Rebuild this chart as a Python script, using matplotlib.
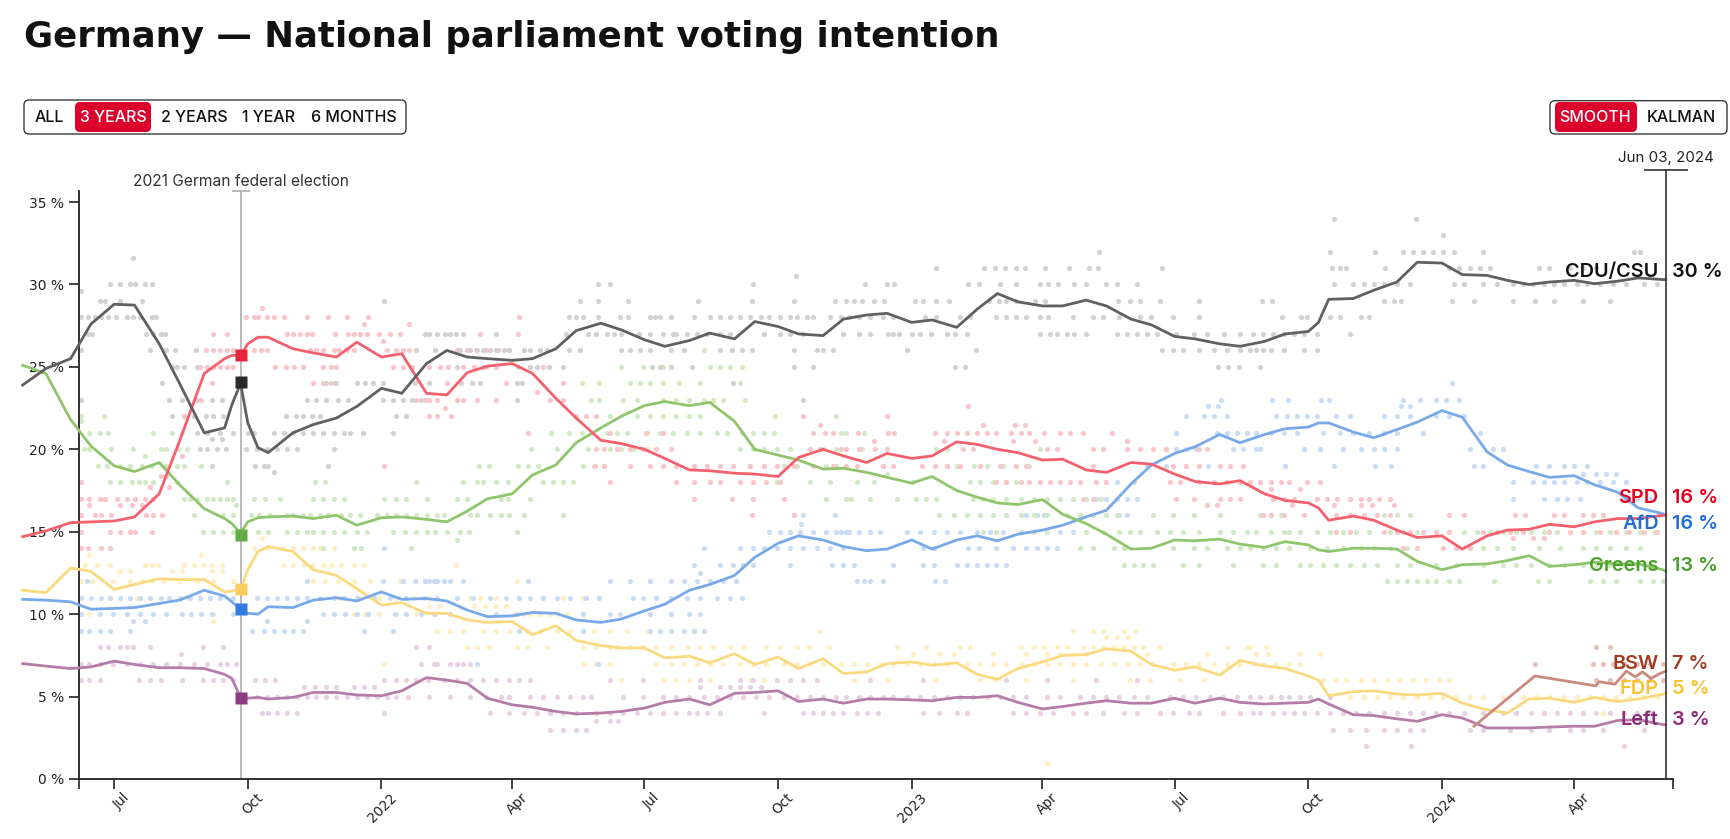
import matplotlib
matplotlib.use("Agg")
import matplotlib.pyplot as plt
import matplotlib.dates as mdates
import matplotlib.ticker as mticker
from matplotlib.patches import FancyBboxPatch
from matplotlib.transforms import ScaledTranslation, blended_transform_factory, IdentityTransform
import pandas as pd

W, H = 1731, 839

# ---- data (smoothed poll averages) ----
DATES = [
    "2021-04-29", "2021-05-15", "2021-06-01", "2021-06-15", "2021-07-01", "2021-07-15",
    "2021-08-01", "2021-08-15", "2021-09-01", "2021-09-15", "2021-09-20", "2021-09-26",
    "2021-10-01", "2021-10-08", "2021-10-15", "2021-11-01", "2021-11-15", "2021-12-01",
    "2021-12-15",
    "2022-01-01", "2022-01-15", "2022-02-01", "2022-02-15", "2022-03-01", "2022-03-15",
    "2022-04-01", "2022-04-15", "2022-05-01", "2022-05-15", "2022-06-01", "2022-06-15",
    "2022-07-01", "2022-07-15", "2022-08-01", "2022-08-15", "2022-09-01", "2022-09-15",
    "2022-10-01", "2022-10-15", "2022-11-01", "2022-11-15", "2022-12-01", "2022-12-15",
    "2023-01-01", "2023-01-15", "2023-02-01", "2023-02-15", "2023-03-01", "2023-03-15",
    "2023-04-01", "2023-04-15", "2023-05-01", "2023-05-15", "2023-06-01", "2023-06-15",
    "2023-07-01", "2023-07-15", "2023-08-01", "2023-08-15", "2023-09-01", "2023-09-15",
    "2023-10-01", "2023-10-08", "2023-10-15", "2023-11-01", "2023-11-15", "2023-12-01",
    "2023-12-15",
    "2024-01-01", "2024-01-15", "2024-02-01", "2024-02-15", "2024-03-01", "2024-03-15",
    "2024-04-01", "2024-04-15", "2024-05-01", "2024-05-15", "2024-06-01", "2024-06-03",
]

CDU = [23.9, 24.9, 25.5, 27.6, 28.8, 28.75, 26.4, 24.0, 21.0, 21.3, 22.7, 24.0, 21.6, 20.1, 19.8, 21.0, 21.5, 21.9, 22.6,
       23.7, 23.4, 25.2, 26.0, 25.6, 25.5, 25.4, 25.5, 26.1, 27.2, 27.65, 27.25, 26.65, 26.25, 26.6, 27.05, 26.7, 27.75,
       27.45, 27.0, 26.9, 27.9, 28.15, 28.25,
       27.7, 27.85, 27.4, 28.5, 29.45, 28.95, 28.7, 28.7, 29.05, 28.7, 27.9, 27.55, 26.85, 26.7, 26.4, 26.25, 26.55, 27.0,
       27.15, 27.7, 29.1, 29.15, 29.65, 30.15, 31.35,
       31.3, 30.6, 30.55, 30.25, 30.0, 30.15, 30.25, 30.05, 30.2, 30.4, 30.3, 30.3]
SPD = [14.7, 15.05, 15.55, 15.6, 15.65, 15.9, 17.3, 20.5, 24.6, 25.5, 25.7, 25.7, 26.4, 26.8, 26.8, 26.1, 25.85, 25.6, 26.5,
       25.6, 25.8, 23.4, 23.3, 24.65, 25.05, 25.2, 24.6, 23.1, 21.9, 20.55, 20.35, 20.0, 19.45, 18.75, 18.7, 18.55, 18.5,
       18.35, 19.5, 20.0, 19.6, 19.2, 19.75,
       19.45, 19.6, 20.45, 20.3, 20.0, 19.8, 19.35, 19.4, 18.75, 18.6, 19.2, 19.1, 18.5, 18.05, 17.9, 18.1, 17.3, 16.9,
       16.75, 16.45, 15.7, 15.95, 15.7, 15.1, 14.65,
       14.75, 13.95, 14.75, 15.1, 15.15, 15.45, 15.3, 15.6, 15.8, 15.8, 16.0, 16.0]
GREENS = [25.1, 24.6, 21.8, 20.2, 19.0, 18.65, 19.2, 17.85, 16.4, 15.8, 15.5, 14.9, 15.6, 15.85, 15.9, 15.95, 15.8, 16.0, 15.4,
          15.85, 15.9, 15.75, 15.6, 16.25, 17.0, 17.3, 18.45, 19.05, 20.4, 21.3, 22.0, 22.65, 22.9, 22.65, 22.85, 21.7, 20.0,
          19.65, 19.35, 18.8, 18.85, 18.6, 18.3,
          17.95, 18.35, 17.5, 17.1, 16.75, 16.65, 16.95, 16.05, 15.5, 14.85, 13.95, 14.0, 14.5, 14.45, 14.55, 14.25, 14.05,
          14.4, 14.2, 13.9, 13.8, 14.0, 14.0, 13.95, 13.2,
          12.7, 13.0, 13.05, 13.25, 13.55, 12.9, 13.0, 13.15, 13.05, 13.05, 12.7, 12.6]
FDP = [11.45, 11.3, 12.8, 12.6, 11.5, 11.8, 12.15, 12.1, 12.1, 11.35, 11.4, 11.5, 12.7, 13.8, 14.1, 13.8, 12.7, 12.35, 11.55,
       10.55, 10.7, 10.05, 10.05, 9.65, 9.5, 9.55, 8.75, 9.3, 8.4, 8.1, 7.95, 7.95, 7.35, 7.45, 7.05, 7.6, 6.95,
       7.4, 6.7, 7.3, 6.4, 6.5, 7.0,
       7.1, 6.9, 7.05, 6.35, 6.05, 6.7, 7.1, 7.5, 7.55, 7.9, 7.75, 6.95, 6.6, 6.8, 6.3, 7.2, 6.85, 6.7,
       6.25, 6.0, 5.05, 5.3, 5.35, 5.15, 5.1,
       5.2, 4.6, 4.2, 4.0, 4.85, 4.9, 4.65, 4.95, 4.7, 4.85, 5.15, 5.2]
AFD = [10.9, 10.85, 10.75, 10.3, 10.35, 10.4, 10.65, 10.85, 11.45, 11.1, 10.75, 10.3, 10.05, 10.0, 10.45, 10.4, 10.85, 11.0, 10.8,
       11.35, 10.9, 10.95, 10.8, 10.25, 9.85, 9.9, 10.1, 10.05, 9.65, 9.5, 9.7, 10.2, 10.6, 11.45, 11.8, 12.35, 13.45,
       14.3, 14.75, 14.5, 14.1, 13.85, 13.95,
       14.5, 13.95, 14.5, 14.75, 14.45, 14.85, 15.1, 15.4, 15.9, 16.3, 17.9, 19.05, 19.75, 20.15, 20.9, 20.4, 20.9, 21.25,
       21.35, 21.6, 21.6, 21.05, 20.7, 21.2, 21.65,
       22.35, 21.95, 19.85, 19.05, 18.65, 18.3, 18.4, 17.85, 17.4, 16.45, 16.1, 16.0]
LEFT = [7.0, 6.85, 6.7, 6.8, 7.15, 6.95, 6.75, 6.75, 6.7, 6.35, 6.1, 4.95, 4.9, 4.95, 4.85, 4.95, 5.25, 5.25, 5.1,
        5.05, 5.35, 6.15, 6.0, 5.8, 4.9, 4.5, 4.35, 4.1, 3.95, 4.0, 4.1, 4.3, 4.65, 4.85, 4.5, 5.2, 5.25,
        5.35, 4.7, 4.85, 4.6, 4.85, 4.85,
        4.8, 4.75, 4.95, 4.95, 5.05, 4.65, 4.25, 4.4, 4.6, 4.75, 4.6, 4.6, 4.9, 4.6, 4.9, 4.65, 4.55, 4.6,
        4.65, 4.85, 4.55, 3.9, 3.85, 3.65, 3.5,
        3.9, 3.7, 3.1, 3.1, 3.1, 3.15, 3.2, 3.2, 3.55, 3.6, 3.3, 3.3]

BSW_DATES = ["2024-01-23", "2024-03-05", "2024-04-16", "2024-04-18", "2024-04-29", "2024-05-07",
             "2024-05-13", "2024-05-18", "2024-05-24", "2024-05-29", "2024-06-03"]
BSW = [3.2, 6.25, 5.65, 5.9, 5.75, 6.55, 6.2, 6.5, 6.1, 6.35, 6.55]

# individual polls: {value: [days since 2022-01-01, ...]}
POLL_DAY0 = "2022-01-01"
POLLS_CDU = {
    34: [656, 712],
    33: [731],
    32: [494, 653, 684, 703, 710, 717, 724, 731, 738, 758, 862, 866],
    31.6: [-171],
    31: [382, 415, 422, 429, 437, 443, 457, 473, 487, 493, 537, 654, 660, 664, 691, 735, 742, 749, 756, 763,
         797, 804, 818, 827, 836],
    30.5: [285],
    30: [-187, -180, -173, -170, -163, -158, 149, 157, 256, 333, 348, 353, 404, 411, 426, 437, 453, 459, 466, 477,
         485, 499, 506, 520, 656, 669, 676, 683, 690, 699, 708, 738, 745, 758, 768, 779, 786, 793, 800, 807, 814,
         823, 830, 839, 848, 857, 869, 878],
    29.6: [-207],
    29: [-194, -190, -180, -165, 2, 137, 149, 170, 218, 255, 284, 312, 320, 325, 331, 339, 346, 367, 373, 382, 391,
         418, 425, 430, 437, 450, 457, 507, 515, 522, 536, 563, 606, 613, 690, 697, 702, 737, 752, 779, 794, 807,
         827, 846],
    28: [-207, -202, -197, -193, -188, -183, -175, -171, -166, -158, -155, 129, 134, 139, 149, 164, 170, 185, 188,
         192, 199, 215, 226, 233, 240, 247, 254, 261, 267, 274, 281, 286, 293, 297, 309, 316, 322, 329, 336, 345,
         352, 374, 382, 398, 405, 423, 430, 437, 444, 453, 459, 476, 490, 497, 508, 522, 530, 545, 563, 620, 633,
         637, 653, 660, 674, 680],
    27: [-202, -199, -162, -157, -152, -149, 30, 33, 38, 44, 47, 51, 56, 79, 127, 142, 148, 155, 160, 165, 177, 185,
         194, 201, 203, 210, 217, 224, 233, 240, 263, 274, 281, 290, 318, 329, 336, 349, 352, 356, 365, 371, 378,
         389, 395, 403, 453, 460, 465, 472, 477, 485, 506, 513, 520, 527, 534, 547, 559, 568, 580, 591, 600, 607,
         614, 621, 628, 635, 644, 667],
    26: [-207, -159, -148, -142, -128, 24, 37, 54, 61, 66, 70, 75, 79, 84, 88, 98, 102, 109, 114, 129, 137, 165,
         171, 178, 185, 199, 208, 233, 241, 248, 255, 284, 300, 304, 311, 362, 409, 537, 545, 552, 563, 573, 582,
         591, 598, 602, 607, 612, 621, 635, 644],
    25: [-144, -141, -136, -127, 52, 70, 94, 102, 107, 115, 125, 186, 192, 199, 214, 284, 297, 395, 402, 576, 583,
         590, 605],
    24: [-151, -97, -38, -32, -17, -11, -6, 1, 23, 33, 55, 62, 68, 93, 97, 242],
    23: [-207, -146, -137, -127, -117, -110, -51, -45, -38, -30, -23, 1, 8, 15, 21, 27, 93, 290],
    22: [-144, -129, -121, -116, -109, -66, -59, -54, -48, -42, 10, 17],
    21: [-127, -120, -111, -102, -92, -88, -74, -67, -61, -54, -47, -40, -33, -26, -22, -13, 8],
    20.6: [-117, -110],
    20: [-125, -120, -113, -107, -93, -86, -79, -72, -65, -58, -33],
    19: [-117, -87, -81, -78, -37],
    18.6: [-74],
}
POLLS_SPD = {
    28.6: [-82],
    28: [-93, -88, -85, -79, -74, -67, -51, -37, -24, -9, 95],
    27.6: [-12, 19],
    27: [-116, -106, -65, -61, -56, -51, -48, -32, -23, -19, -15, -10, -2, 6, 13, 68, 94],
    26.6: [1],
    26: [-121, -116, -111, -106, -102, -88, -83, -79, -49, -45, -40, -33, -29, -24, -19, 4, 10, 15, 19, 24, 52, 59,
         65, 72, 80, 88],
    25: [-125, -120, -116, -111, -106, -102, -73, -66, -60, -54, -40, -35, -31, 8, 15, 21, 33, 40, 46, 56, 64, 72,
         79, 102, 107, 111],
    24: [-117, -47, -40, -35, -31, 45, 86, 93, 125],
    23.5: [107],
    23: [-124, 24, 30, 33, 38, 52, 56, 66, 79, 116, 125],
    22.6: [404],
    22.5: [44],
    22: [-136, 33, 38, 48, 134, 141, 148, 290, 348],
    21.5: [302, 414, 436, 443],
    21: [101, 157, 182, 194, 297, 305, 311, 328, 349, 353, 381, 389, 396, 403, 410, 417, 423, 433, 440, 446, 456,
         467, 474, 483, 503],
    20.5: [339, 387, 435, 450, 513],
    20: [148, 153, 162, 171, 180, 189, 199, 295, 302, 316, 320, 329, 340, 348, 400, 407, 458, 465, 490, 497, 513,
         522, 531, 540, 563, 568],
    19.6: [-137],
    19: [2, 147, 153, 171, 185, 194, 203, 215, 224, 233, 242, 254, 263, 272, 284, 297, 311, 320, 327, 345, 352, 372,
         381, 389, 398, 412, 426, 437, 444, 490, 545, 554, 563, 577, 584, 593],
    18.4: [-152, -148],
    18: [-207, 157, 203, 215, 226, 233, 247, 256, 265, 274, 423, 430, 440, 446, 453, 460, 467, 474, 481, 492, 499,
         543, 550, 563, 573, 582, 591, 598, 605, 612, 619, 625, 637, 646],
    17.7: [-159, -146],
    17.6: [612, 632],
    17: [-207, -201, -194, -190, -182, -175, -170, -163, -157, 215, 241, 256, 277, 483, 490, 547, 559, 577, 584,
         591, 614, 621, 628, 644, 651, 658, 667, 674, 680, 687, 694],
    16.6: [-201, -180, -172, -165, 568, 575, 627, 656, 674, 682, 697],
    16: [-207, -197, -193, -186, -162, -157, -151, 255, 284, 607, 612, 621, 635, 657, 667, 676, 685, 694, 735, 745,
         780, 787, 807, 814, 827, 834, 841],
    15: [-207, -187, -180, -173, -170, -158, 657, 667, 690, 699, 708, 717, 726, 735, 758, 768, 777, 786, 804, 818,
         827, 839, 850, 859, 869, 878],
    14.6: [779, 793, 800],
    14: [-207, -202, -193, -187, 703, 713, 731, 740, 749],
}
POLLS_GREENS = {
    26: [222],
    25: [165, 180, 194, 199, 226, 233, 240, 248],
    24: [138, 150, 171, 178, 185, 194, 205, 219, 242, 247],
    23: [144, 150, 166, 176, 194, 203, 212, 222, 228, 235, 250],
    22: [-207, -191, 157, 176, 185, 194, 203, 212, 219, 271, 313],
    21.7: [-207],
    21: [-201, -194, -188, -157, -144, -137, 117, 129, 138, 155, 162, 169, 183, 192, 201, 210, 219, 231, 238, 248,
         256, 263, 270, 316, 320, 332],
    20: [-205, -201, -186, -171, -152, -148, -140, -134, 103, 121, 142, 157, 165, 173, 183, 247, 256, 263, 272, 281,
         304, 313, 320, 331, 382, 389, 453],
    19.6: [-163],
    19: [-195, -189, -180, -173, -165, -158, -148, -141, -136, -124, 67, 74, 94, 101, 108, 139, 146, 153, 254, 263,
         277, 286, 297, 306, 313, 345, 352, 389, 396, 408, 417, 428, 437, 446],
    18.5: [348],
    18: [-187, -180, -172, -167, -163, -157, -141, -106, -46, -39, 24, 56, 66, 70, 79, 87, 111, 118, 125, 132, 272,
         295, 309, 327, 339, 366, 405, 412, 421, 430, 437],
    17: [-136, -132, -127, -120, -116, -111, -106, -102, -88, -80, -70, -47, -40, -33, -26, 2, 10, 17, 31, 52, 59,
         82, 87, 102, 306, 320, 323, 336, 355, 368, 375, 382, 407, 414, 421, 430, 440, 449, 458, 467, 476, 485, 495],
    16.6: [-100],
    16: [-129, -109, -102, -90, -84, -77, -65, -61, -54, -49, -42, -37, -28, -22, -15, -3, 4, 10, 17, 24, 31, 38,
         43, 61, 66, 75, 82, 88, 98, 125, 384, 394, 403, 412, 421, 430, 440, 449, 458, 472, 481, 490, 499, 506, 531,
         545, 559, 577, 605, 612, 619, 690, 699, 708],
    15: [-123, -116, -109, -102, -85, -78, -65, -58, -51, -47, -40, -33, -26, -17, -10, 8, 16, 24, 31, 37, 45, 54,
         60, 93, 414, 423, 440, 449, 458, 485, 497, 508, 515, 522, 534, 543, 552, 563, 577, 586, 596, 602, 612, 621,
         625, 632, 644, 653, 662, 671, 680, 694, 703, 713, 745, 754, 763, 772, 781, 791, 800, 809, 818, 827, 836,
         846, 857, 866, 876],
    14.5: [52],
    14: [-40, -19, -14, 20, 481, 490, 504, 511, 545, 559, 568, 582, 591, 598, 607, 616, 625, 639, 651, 662, 674, 683,
         694, 706, 749, 758, 768, 779, 797, 811, 827, 836, 846, 857, 866],
    13: [511, 518, 524, 531, 552, 563, 586, 607, 616, 632, 639, 648, 657, 667, 676, 685, 699, 708, 726, 740, 758,
         772, 781, 791, 804, 814, 827, 836, 846, 855, 864, 873],
    12: [692, 699, 706, 713, 720, 726, 735, 742, 766, 796, 804, 832, 841, 850, 866, 875, 882],
}
POLLS_AFD = {
    24: [737],
    23: [578, 613, 624, 647, 652, 703, 715, 726, 733, 742],
    22.6: [569, 576, 702, 708],
    22: [554, 566, 573, 582, 616, 623, 630, 637, 644, 657, 667, 690, 699, 708, 726, 735, 745],
    21: [547, 575, 582, 589, 596, 602, 612, 621, 630, 648, 660, 669, 680, 690, 699, 717, 756],
    20: [540, 547, 554, 561, 586, 593, 602, 605, 635, 646, 662, 674, 683, 690, 699, 749, 765, 772],
    19: [527, 540, 554, 563, 569, 622, 656, 684, 695, 752, 758, 795, 804, 814, 821, 830],
    18.5: [827, 836, 843, 850],
    18: [499, 506, 518, 779, 793, 800, 807, 814, 823, 830, 839, 848, 857],
    17: [485, 492, 499, 506, 513, 520, 779, 800, 809, 816, 825, 857, 864, 873],
    16: [284, 290, 312, 430, 440, 444, 451, 456, 481, 490, 499, 508, 513, 880],
    15.5: [289],
    15: [267, 274, 281, 288, 297, 306, 313, 316, 320, 322, 329, 336, 343, 362, 371, 380, 389, 398, 410, 419, 428,
         440, 449, 458, 467, 476],
    14: [2, 222, 247, 256, 263, 272, 281, 290, 300, 309, 318, 373, 380, 404, 411, 423, 435, 444, 451, 458, 465],
    13: [215, 233, 242, 249, 256, 281, 310, 318, 325, 352, 373, 380, 396, 403, 410, 417, 423, 430],
    12.5: [219],
    12: [-203, -51, 1, 15, 23, 30, 33, 36, 38, 43, 47, 56, 101, 157, 171, 185, 199, 208, 217, 226, 235, 244, 327,
         332, 336, 345, 381, 388],
    11: [-207, -200, -193, -187, -180, -173, -166, -159, -152, -146, -139, -132, -125, -118, -111, -102, -86, -79,
         -72, -65, -58, -51, -42, -33, -26, -17, -5, 6, 17, 29, 38, 52, 63, 75, 86, 95, 102, 111, 121, 130, 141,
         150, 173, 180, 189, 199, 210, 219, 231, 240, 248],
    10: [-207, -194, -185, -175, -166, -157, -148, -137, -131, -124, -117, -102, -40, -33, -25, -17, -9, 9, 17, 27,
         36, 47, 79, 93, 139, 157, 164, 185, 199, 212, 219],
    9.6: [-171, -163, -79, -51],
    9: [-207, -201, -194, -187, -173, -89, -81, -74, -67, -61, -54, -12, 8, 95, 139, 185, 192, 199, 208, 215, 222],
    7: [66, 149],
}
POLLS_FDP = {
    14.6: [-82],
    14: [-88, -78, -68, -61, -54, -47, -42, -33],
    13.6: [-201, -124],
    13: [-204, -196, -187, -163, -158, -154, -136, -129, -123, -117, -110, -68, -61, -53, -47, -40, -35, -28, -19,
         -12, 51],
    12.6: [-180, -173, -144, -137, -117, -110],
    12: [-207, -199, -185, -173, -165, -158, -150, -139, -127, -116, -102, -47, -39, -30, -19, -8, 13, 24, 30, 93,
         101],
    11: [-168, -133, -29, -15, -2, 10, 22, 33, 61, 68, 79, 125, 139],
    10.5: [33, 40, 54, 64, 71, 78, 86],
    10: [-207, -201, -116, -19, -11, -2, 10, 24, 37, 91, 98, 102, 109, 116, 121, 128],
    9.6: [-116],
    9: [38, 47, 56, 70, 79, 88, 100, 109, 121, 130, 139, 146, 157, 169, 183, 192, 199, 208, 215, 222, 302, 476, 490,
        497, 511, 519],
    8.6: [499, 506, 514],
    8: [59, 66, 74, 93, 100, 114, 139, 148, 157, 162, 171, 180, 189, 199, 210, 219, 228, 240, 249, 265, 274, 286,
        294, 308, 355, 375, 398, 405, 440, 449, 456, 465, 472, 483, 490, 497, 504, 511, 518, 524, 536, 582, 596,
        598, 609],
    7.6: [366, 384, 394, 421, 444, 458, 467, 476, 485, 527, 568, 602, 610, 632, 646],
    7: [2, 139, 148, 157, 189, 199, 208, 217, 226, 235, 247, 256, 265, 277, 286, 295, 304, 316, 325, 334, 343, 352,
        362, 371, 380, 389, 403, 412, 421, 430, 440, 449, 458, 467, 476, 485, 495, 504, 513, 522, 531, 545, 554,
        563, 573, 582, 591, 600, 607, 616, 625, 632],
    6: [165, 180, 194, 203, 212, 226, 254, 263, 325, 348, 382, 412, 423, 444, 458, 476, 492, 515, 529, 550, 566, 648,
        657, 664, 674, 683, 692, 701, 710, 719, 728, 735],
    5: [667, 676, 685, 694, 703, 713, 722, 731, 740, 749, 758, 772, 786, 795, 804, 814, 823, 832, 841, 850, 859, 869,
        878],
    4: [758, 772, 781, 800, 809, 827, 841],
    1: [458],
}
POLLS_LEFT = {
    8: [-194, -188, -180, -175, -171, -159, -123, -109, 24, 33],
    7.6: [-138],
    7: [-207, -201, -194, -185, -175, -166, -157, -148, -139, -129, -120, -111, -106, -100, 27, 36, 38, 47, 52, 56,
        61],
    6: [-207, -201, -194, -167, -159, -152, -137, -123, -116, -109, -102, -87, -80, -73, 2, 10, 17, 24, 32, 43, 52,
        61, 70, 79, 88, 95, 102, 157, 180, 219, 247, 256, 272, 281, 290, 300, 336, 373, 430, 458, 492, 520],
    5.6: [-53, -46, -38, -31, -19, -12, -5, 219, 233, 240, 247, 254, 261],
    5: [-93, -86, -79, -72, -65, -58, -51, -45, -38, -31, -24, -17, -10, -3, 4, 10, 18, 33, 47, 61, 72, 82, 88, 102,
        111, 121, 130, 139, 144, 166, 180, 194, 203, 212, 222, 231, 240, 249, 258, 267, 277, 286, 295, 304, 313,
        320, 329, 336, 345, 352, 362, 371, 380, 389, 398, 407, 417, 426, 435, 444, 458, 467, 481, 490, 499, 508,
        518, 527, 543, 552, 561, 570, 579, 589, 598, 605, 612, 619, 625, 632, 639, 653],
    4: [-82, -78, -72, -65, -58, 2, 75, 88, 98, 107, 116, 125, 134, 148, 157, 166, 176, 185, 194, 203, 212, 217, 224,
        233, 263, 290, 297, 304, 311, 318, 327, 334, 342, 373, 384, 396, 403, 435, 444, 453, 462, 476, 485, 497,
        511, 520, 536, 545, 556, 563, 579, 591, 600, 605, 614, 621, 628, 635, 644, 653, 662, 671, 680, 690, 699,
        708, 717, 726, 735, 745, 758, 772, 781, 791, 800, 809, 818, 827, 836, 846, 855, 864, 873],
    3.5: [148, 157, 163],
    3: [116, 125, 134, 141, 655, 667, 678, 690, 699, 708, 717, 749, 758, 777, 791, 804, 818, 827, 841, 869],
    2: [678, 709, 855],
}
POLLS_BSW = {
    8: [836, 846],
    7: [794, 834, 841, 848, 855, 864, 873, 882],
    6: [836, 846, 855, 864, 873, 882],
}

# 2021 federal election results
ELECTION_DATE = "2021-09-26"
ELECTION_PARTIES = ["SPD", "CDU/CSU", "Greens", "FDP", "AfD", "Left"]
ELECTION_RESULT = [25.7, 24.1, 14.8, 11.5, 10.3, 4.9]

LAST_DATE = "2024-06-03"
LABEL_PARTIES = ["CDU/CSU", "SPD", "AfD", "Greens", "BSW", "FDP", "Left"]
LABEL_VALUES = ["30 %", "16 %", "16 %", "13 %", "7 %", "5 %", "3 %"]
LABEL_Y = [30.44, 16.75, 15.17, 12.64, 6.67, 5.16, 3.29]   # label baselines (collision-avoided)

LINE_COLORS = {"CDU/CSU": "#606060", "SPD": "#f4616d", "Greens": "#8fc56c", "AfD": "#78a9ea",
               "FDP": "#fbd97f", "Left": "#b67ca9", "BSW": "#c98a7e"}
DOT_COLORS = {"CDU/CSU": "#d2d2d2", "SPD": "#f9c5cb", "Greens": "#d3e9c5", "AfD": "#cadcf5",
              "FDP": "#fdeec3", "Left": "#e6d2e2", "BSW": "#e6c2b9"}
TEXT_COLORS = {"CDU/CSU": "#111111", "SPD": "#e3001b", "Greens": "#4aa02c", "AfD": "#1f6fd6",
               "FDP": "#f9c12e", "Left": "#8a2a78", "BSW": "#a23a22"}
MARKER_COLORS = {"CDU/CSU": "#2a2a2a", "SPD": "#e8263c", "Greens": "#62ad43", "AfD": "#2f7de0",
                 "FDP": "#f9cd5c", "Left": "#8e3c81"}

# ---- figure ----
fig = plt.figure(figsize=(W / 100, H / 100), dpi=100)
ax = fig.add_axes([21.2 / W, (H - 779) / H, (1674.4 - 21.2) / W, (779 - 190.7) / H])

# poll dots
day0 = mdates.date2num(pd.Timestamp(POLL_DAY0))
polls = [("FDP", POLLS_FDP), ("Left", POLLS_LEFT), ("AfD", POLLS_AFD), ("Greens", POLLS_GREENS),
         ("SPD", POLLS_SPD), ("CDU/CSU", POLLS_CDU), ("BSW", POLLS_BSW)]
for name, pdict in polls:
    for level, days in pdict.items():
        ax.scatter([day0 + d for d in days], [level] * len(days), s=14, color=DOT_COLORS[name],
                   linewidths=0, zorder=1)

dates = pd.to_datetime(DATES)
series = [("Left", LEFT), ("FDP", FDP), ("AfD", AFD), ("Greens", GREENS), ("SPD", SPD), ("CDU/CSU", CDU)]
for name, vals in series:
    ax.plot(dates, vals, color=LINE_COLORS[name], lw=2.0, solid_joinstyle="round", zorder=3)
ax.plot(pd.to_datetime(BSW_DATES), BSW, color=LINE_COLORS["BSW"], lw=2.0, zorder=3)

x_start = pd.Timestamp("2021-04-28")
x_end = pd.Timestamp("2024-06-09")
axis_start = mdates.date2num(pd.Timestamp("2021-06-07"))
axis_end = mdates.date2num(pd.Timestamp("2024-06-08"))
ax.set_xlim(x_start, x_end)
ax.set_ylim(0, 35.69)

# spines
for s in ["top", "right"]:
    ax.spines[s].set_visible(False)
ax.spines["left"].set_position(("data", axis_start))
ax.spines["left"].set_bounds(0, 35.69)
ax.spines["bottom"].set_bounds(axis_start, axis_end)
for s in ["left", "bottom"]:
    ax.spines[s].set_linewidth(1.3)
    ax.spines[s].set_color("#222222")

# y ticks
ax.set_yticks(range(0, 36, 5))
ax.yaxis.set_major_formatter(mticker.FuncFormatter(lambda v, p: f"{int(v)} %"))
ax.tick_params(axis="y", length=7, width=1.2, color="#222222", labelsize=10, labelcolor="#222222", pad=4)

# x ticks: quarters, year label at January
ax.xaxis.set_major_locator(mdates.MonthLocator(bymonth=[1, 4, 7, 10]))
ax.xaxis.set_major_formatter(mticker.FuncFormatter(
    lambda v, p: mdates.num2date(v).strftime("%Y") if mdates.num2date(v).month == 1
    else mdates.num2date(v).strftime("%b")))
ax.xaxis.set_minor_locator(mticker.FixedLocator([axis_start, axis_end]))
ax.tick_params(axis="x", which="both", length=7, width=1.2, color="#222222", labelsize=9.8,
               labelcolor="#222222", pad=5)
offset = ScaledTranslation(13 / 100, 0, fig.dpi_scale_trans)
for lab in ax.get_xticklabels():
    lab.set_rotation(45)
    lab.set_ha("right")
    lab.set_va("center")
    lab.set_rotation_mode("anchor")
    lab.set_transform(lab.get_transform() + offset)

trans = blended_transform_factory(ax.transData, ax.transAxes)

# election marker line
xe = mdates.date2num(pd.Timestamp(ELECTION_DATE))
ax.plot([xe, xe], [0, 1], transform=trans, color="#b3b3b3", lw=1.3, clip_on=False, zorder=2)
ax.plot([xe], [1], transform=trans, marker="_", ms=13, mew=1.3, color="#b3b3b3", clip_on=False)
ax.text(xe, 1.0148, "2021 German federal election", transform=trans, ha="center", va="center",
        fontsize=11.2, color="#333333", family="Inter")
for name, v in zip(ELECTION_PARTIES, ELECTION_RESULT):
    ax.plot([xe], [v], marker="s", ms=8, color=MARKER_COLORS[name], mec="none", zorder=6)

# latest-date cursor
xc = mdates.date2num(pd.Timestamp(LAST_DATE))
ax.plot([xc, xc], [0, 1.035], transform=trans, color="#333333", lw=1.2, clip_on=False, zorder=4)
ax.plot([xc], [1.035], transform=trans, marker="_", ms=31, mew=1.2, color="#333333", clip_on=False)
ax.text(xc, 1.056, "Jun 03, 2024", transform=trans, ha="center", va="center",
        fontsize=10.8, color="#222222", family="Inter")

left_off = ax.transData + ScaledTranslation(-7 / 100, 0, fig.dpi_scale_trans)
right_off = ax.transData + ScaledTranslation(6 / 100, 0, fig.dpi_scale_trans)
for name, val, y in zip(LABEL_PARTIES, LABEL_VALUES, LABEL_Y):
    ax.text(xc, y, name, transform=left_off, ha="right", va="baseline", fontsize=14.3,
            color=TEXT_COLORS[name], family="Inter", weight="semibold", zorder=7)
    ax.text(xc, y, val, transform=right_off, ha="left", va="baseline", fontsize=14.3,
            color=TEXT_COLORS[name], family="Inter", weight="semibold", zorder=7)

# ---- header ----
fig.text(24 / W, 1 - 46.7 / H, "Germany \u2014 National parliament voting intention",
         fontsize=25.6, weight="bold", family="DejaVu Sans", color="#111111", va="baseline")


def box(x0, y0, x1, y1, face, edge, lw):
    # pixel coords, y measured from the top
    p = FancyBboxPatch((x0, H - y1), x1 - x0, y1 - y0, boxstyle="round,pad=0,rounding_size=5",
                       transform=IdentityTransform(), facecolor=face, edgecolor=edge, lw=lw)
    fig.add_artist(p)


box(24, 100, 406, 134, "white", "#3a3a3a", 1.0)
box(75, 102, 151, 132, "#dc002d", "none", 0)
box(1550, 100.7, 1727, 134, "white", "#3a3a3a", 1.0)
box(1555, 102, 1637, 132, "#dc002d", "none", 0)

BUTTONS = [("ALL", 49.5, "#111111"), ("3 YEARS", 113.8, "white"), ("2 YEARS", 194.5, "#111111"),
           ("1 YEAR", 269, "#111111"), ("6 MONTHS", 354, "#111111"),
           ("SMOOTH", 1595, "white"), ("KALMAN", 1681, "#111111")]
for txt, cx, col in BUTTONS:
    fig.text(cx / W, 1 - 118 / H, txt, ha="center", va="center", fontsize=11.5,
             color=col, family="Inter", weight="medium")

fig.savefig("out.png", dpi=100)
